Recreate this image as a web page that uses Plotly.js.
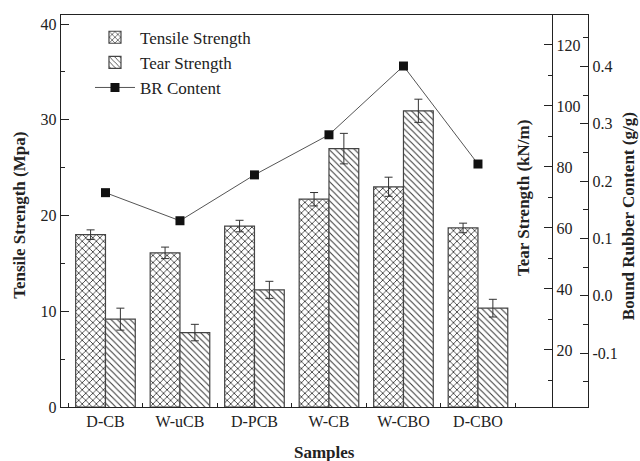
<!DOCTYPE html>
<html>
<head>
<meta charset="utf-8">
<script src="https://cdn.plot.ly/plotly-3.0.1.min.js"></script>
<style>html,body{margin:0;padding:0;background:#fff;}#chart{width:640px;height:461px;}</style>
</head>
<body>
<div id="chart"></div>
<script>
// ---- data ----
const samples = ["D-CB", "W-uCB", "D-PCB", "W-CB", "W-CBO", "D-CBO"];
const tensile = [18.0, 16.1, 18.9, 21.7, 23.0, 18.7];
const tensileErr = [0.5, 0.6, 0.6, 0.7, 1.0, 0.5];
const tear = [30.1, 25.7, 39.7, 86.0, 98.4, 33.7];
const tearErr = [3.6, 2.7, 2.8, 5.0, 3.8, 2.9];
const brContent = [0.180, 0.131, 0.211, 0.281, 0.401, 0.230];
const brTickVals = [-0.1, 0.0, 0.1, 0.2, 0.3, 0.4];
const brTickText = ["-0.1", "0.0", "0.1", "0.2", "0.3", "0.4"];

const serif = "Liberation Serif, Times New Roman, serif";
const ink = "#222";

const traces = [
  {
    type: "bar", name: "Tensile Strength", x: samples, y: tensile,
    xaxis: "x", yaxis: "y", width: 0.4, offset: -0.4,
    marker: { color: "white", line: { color: "#444", width: 1.2 },
      pattern: { shape: "x", fgcolor: "#222", bgcolor: "white", size: 5, solidity: 0.28 } },
    error_y: { type: "data", array: tensileErr, visible: true, color: "#333", thickness: 1, width: 4 }
  },
  {
    type: "bar", name: "Tear Strength", x: samples, y: tear,
    xaxis: "x", yaxis: "y2", width: 0.4, offset: 0,
    marker: { color: "white", line: { color: "#444", width: 1.2 },
      pattern: { shape: "\\", fgcolor: "#333", bgcolor: "white", size: 4.5, solidity: 0.22 } },
    error_y: { type: "data", array: tearErr, visible: true, color: "#333", thickness: 1, width: 4 }
  },
  {
    type: "scatter", mode: "lines+markers", name: "BR Content", x: samples, y: brContent,
    xaxis: "x", yaxis: "y3",
    line: { color: "#555", width: 1 },
    marker: { symbol: "square", size: 9, color: "#111" }
  }
];

const layout = {
  width: 640, height: 461,
  margin: { l: 61, r: 52, t: 15, b: 54 },
  paper_bgcolor: "white", plot_bgcolor: "white",
  font: { family: serif, color: ink, size: 16 },
  showlegend: true,
  legend: {
    x: 0.055, y: 0.988, xanchor: "left", yanchor: "top",
    bgcolor: "rgba(0,0,0,0)", font: { family: serif, size: 17, color: ink },
    itemwidth: 40, tracegroupgap: 0
  },
  xaxis: {
    type: "category", range: [-0.597, 6.477],
    tickson: "boundaries", ticks: "inside", ticklen: 4, tickcolor: ink,
    showline: true, linecolor: ink, linewidth: 1.2, mirror: true,
    showgrid: false, zeroline: false,
    tickfont: { family: serif, size: 16, color: ink }
  },
  yaxis: {
    range: [0, 40.94], dtick: 10, tick0: 0,
    ticks: "inside", ticklen: 8, tickcolor: ink,
    minor: { dtick: 5, ticks: "inside", ticklen: 4, tickcolor: ink },
    showline: true, linecolor: ink, linewidth: 1.2,
    showgrid: false, zeroline: false,
    tickfont: { family: serif, size: 16, color: ink }
  },
  yaxis2: {
    overlaying: "y", side: "right", anchor: "free", position: 0.9317,
    range: [1.3, 129.8], dtick: 20, tick0: 0,
    ticks: "inside", ticklen: 8, tickcolor: ink,
    minor: { dtick: 10, ticks: "inside", ticklen: 4, tickcolor: ink },
    showline: true, linecolor: ink, linewidth: 1.2,
    showgrid: false, zeroline: false,
    tickfont: { family: serif, size: 16, color: ink }
  },
  yaxis3: {
    overlaying: "y", side: "right", anchor: "x",
    range: [-0.194, 0.490], tickmode: "array", tickvals: brTickVals, ticktext: brTickText,
    ticks: "inside", ticklen: 8, tickcolor: ink,
    minor: { dtick: 0.05, tick0: 0, ticks: "inside", ticklen: 5, tickcolor: ink },
    showline: true, linecolor: ink, linewidth: 1.2,
    showgrid: false, zeroline: false,
    tickfont: { family: serif, size: 16, color: ink }
  },
  annotations: [
    { text: "<b>Tensile Strength (Mpa)</b>", xref: "paper", yref: "paper", x: -0.078, y: 0.49,
      xanchor: "center", yanchor: "middle", textangle: -90, showarrow: false,
      font: { family: serif, size: 17, color: ink } },
    { text: "<b>Tear Strength (kN/m)</b>", xref: "paper", yref: "paper", x: 0.8767, y: 0.533,
      xanchor: "center", yanchor: "middle", textangle: -90, showarrow: false,
      font: { family: serif, size: 17, color: ink } },
    { text: "<b>Bound Rubber Content (g/g)</b>", xref: "paper", yref: "paper", x: 1.076, y: 0.487,
      xanchor: "center", yanchor: "middle", textangle: -90, showarrow: false,
      font: { family: serif, size: 17, color: ink } },
    { text: "<b>Samples</b>", xref: "paper", yref: "paper", x: 0.5, y: -0.117,
      xanchor: "center", yanchor: "middle", showarrow: false,
      font: { family: serif, size: 17, color: ink } }
  ]
};

Plotly.newPlot("chart", traces, layout, { displayModeBar: false, staticPlot: true });
</script>
</body>
</html>
